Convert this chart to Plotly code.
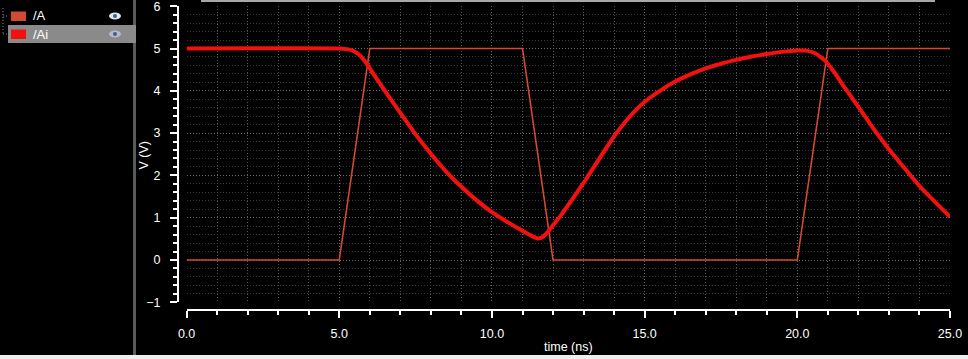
import plotly.graph_objects as go

# ---- data ----
names = ["/A", "/Ai"]
colors = ["#d24a32", "#f21010"]

a_t = [0.0, 5.0, 6.0, 11.0, 12.0, 20.0, 21.0, 25.0]
a_v = [0.0, 0.0, 5.0, 5.0, 0.0, 0.0, 5.0, 5.0]

ai_t = [0.0, 5.0, 5.3, 5.5, 5.7, 5.9, 6.1, 6.5, 7.0, 7.5, 8.0, 8.5, 9.0, 9.5,
        10.0, 10.5, 11.0, 11.3, 11.5, 11.65, 11.8, 12.0, 12.25, 12.5, 13.0,
        13.5, 14.0, 14.5, 15.0, 15.5, 16.0, 16.5, 17.0, 17.5, 18.0, 18.5,
        19.0, 19.5, 20.0, 20.3, 20.6, 20.9, 21.2, 21.5, 22.0, 22.5, 23.0,
        23.5, 24.0, 24.5, 25.0]
ai_v = [5.0, 5.0, 4.98, 4.93, 4.82, 4.64, 4.42, 3.99, 3.48, 2.97, 2.51, 2.09,
        1.73, 1.41, 1.13, 0.90, 0.69, 0.57, 0.51, 0.54, 0.64, 0.82, 1.05, 1.30,
        1.82, 2.38, 2.92, 3.38, 3.74, 4.00, 4.22, 4.39, 4.53, 4.64, 4.73, 4.81,
        4.87, 4.92, 4.95, 4.95, 4.88, 4.72, 4.45, 4.13, 3.62, 3.10, 2.62, 2.18,
        1.75, 1.38, 1.02]

x_range = [0, 25]
y_range = [-1, 6]
x_label = "time (ns)"
y_label = "V (V)"

W, H = 968, 359
FAM = "Liberation Sans"


def fx(p):
    return p / W


def fy(p):
    return 1 - p / H


fig = go.Figure()
fig.add_trace(go.Scatter(x=a_t, y=a_v, mode="lines", name=names[0],
                         line=dict(color=colors[0], width=1.6), showlegend=False))
fig.add_trace(go.Scatter(x=ai_t, y=ai_v, mode="lines", name=names[1],
                         line=dict(color=colors[1], width=4, shape="spline", smoothing=0.4),
                         showlegend=False))

font = dict(family=FAM, size=12.5, color="white")

fig.update_layout(
    width=W, height=H,
    margin=dict(l=0, r=0, t=0, b=0),
    paper_bgcolor="black", plot_bgcolor="black",
    font=font,
    xaxis=dict(
        domain=[fx(186.6), fx(950)], range=x_range, anchor="free", position=fy(310),
        showline=True, linecolor="white", linewidth=2,
        ticks="outside", ticklen=7, tickwidth=1.5, tickcolor="white",
        dtick=5, tick0=0, tickformat=".1f", ticklabelstandoff=5,
        ticklabeloverflow="allow",
        showgrid=True, gridcolor="#6a6a6a", griddash="1px,2px", gridwidth=1,
        zeroline=False, automargin=False,
        minor=dict(dtick=1, ticks="outside", ticklen=4, tickcolor="white",
                   showgrid=True, gridcolor="#585858", griddash="1px,2px"),
    ),
    yaxis=dict(
        domain=[fy(302.3), fy(6.2)], range=y_range, anchor="free", position=fx(178),
        showline=True, linecolor="white", linewidth=2,
        ticks="outside", ticklen=7, tickwidth=1.5, tickcolor="white",
        dtick=1, tick0=0, ticklabelstandoff=7,
        ticklabeloverflow="allow",
        showgrid=True, gridcolor="#6a6a6a", griddash="1px,2px", gridwidth=1,
        zeroline=False, automargin=False,
        minor=dict(dtick=0.2, ticks="outside", ticklen=4, tickcolor="white",
                   showgrid=True, gridcolor="#3a3a3a", griddash="1px,2px"),
    ),
)

shapes = []
# separator between legend panel and plot
shapes.append(dict(type="rect", xref="paper", yref="paper",
                   x0=fx(133), x1=fx(136), y0=fy(355), y1=fy(0),
                   fillcolor="#5a5a5a", line=dict(width=0), layer="below"))
# top gray bar
shapes.append(dict(type="rect", xref="paper", yref="paper",
                   x0=fx(201), x1=fx(935), y0=fy(2), y1=fy(0),
                   fillcolor="#a8a8a8", line=dict(width=0)))
# bottom light band
shapes.append(dict(type="rect", xref="paper", yref="paper",
                   x0=0, x1=1, y0=fy(359), y1=fy(355),
                   fillcolor="#efefef", line=dict(width=0)))
# highlighted row for /Ai
shapes.append(dict(type="rect", xref="paper", yref="paper",
                   x0=fx(8), x1=fx(136), y0=fy(43), y1=fy(25),
                   fillcolor="#8a8a8a", line=dict(width=0), layer="below"))
# tree dotted lines
shapes.append(dict(type="line", xref="paper", yref="paper",
                   x0=fx(3), x1=fx(3), y0=fy(8), y1=fy(34),
                   line=dict(color="#8a8a8a", width=1, dash="1px,2px")))
shapes.append(dict(type="line", xref="paper", yref="paper",
                   x0=fx(3), x1=fx(9), y0=fy(16), y1=fy(16),
                   line=dict(color="#8a8a8a", width=1, dash="1px,2px")))
shapes.append(dict(type="line", xref="paper", yref="paper",
                   x0=fx(3), x1=fx(9), y0=fy(34), y1=fy(34),
                   line=dict(color="#8a8a8a", width=1, dash="1px,2px")))

annotations = []
row_y = [16, 34]
eye_fill = ["#dfe6f4", "#b4bccc"]
for i, nm in enumerate(names):
    cy = row_y[i]
    shapes.append(dict(type="rect", xref="paper", yref="paper",
                       x0=fx(11), x1=fx(26), y0=fy(cy + 5), y1=fy(cy - 4.5),
                       fillcolor=colors[i], line=dict(width=0)))
    shapes.append(dict(type="circle", xref="paper", yref="paper",
                       x0=fx(109), x1=fx(121), y0=fy(cy + 3.5), y1=fy(cy - 3.5),
                       fillcolor=eye_fill[i], line=dict(width=0)))
    shapes.append(dict(type="circle", xref="paper", yref="paper",
                       x0=fx(113), x1=fx(117), y0=fy(cy + 2), y1=fy(cy - 2),
                       fillcolor="#4a5a82", line=dict(width=0)))
    annotations.append(dict(text=nm, xref="paper", yref="paper",
                            x=fx(31), y=fy(cy), xanchor="left", yanchor="middle",
                            showarrow=False, font=dict(family=FAM, size=13, color="white")))

# axis titles
annotations.append(dict(text=x_label, xref="paper", yref="paper",
                        x=fx(568), y=fy(347), xanchor="center", yanchor="middle",
                        showarrow=False, font=font))
annotations.append(dict(text=y_label, xref="paper", yref="paper",
                        x=fx(143.5), y=fy(156), xanchor="center", yanchor="middle",
                        textangle=-90, showarrow=False, font=font))

fig.update_layout(shapes=shapes, annotations=annotations)

fig.write_html("out.html")
